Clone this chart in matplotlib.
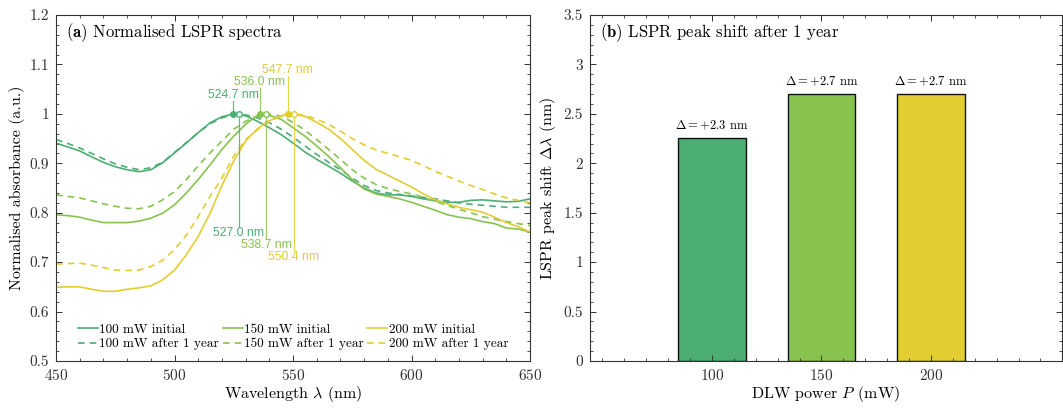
import numpy as np
import matplotlib
matplotlib.use("Agg")
import matplotlib.pyplot as plt
from matplotlib.ticker import MultipleLocator, FormatStrFormatter, FixedLocator

# wavelength grid (nm) for the spectra
wl = np.arange(450, 651, 5)

s100_init = [0.941, 0.933, 0.925, 0.913, 0.902, 0.893, 0.887, 0.883, 0.887, 0.901,
             0.921, 0.941, 0.962, 0.982, 0.994, 0.9995, 0.996, 0.985, 0.972, 0.958,
             0.941, 0.923, 0.908, 0.894, 0.880, 0.864, 0.850, 0.840, 0.836, 0.836,
             0.833, 0.828, 0.824, 0.821, 0.821, 0.825, 0.826, 0.824, 0.822, 0.823, 0.828]
s100_after = [0.948, 0.940, 0.931, 0.920, 0.909, 0.899, 0.892, 0.887, 0.891, 0.902,
              0.922, 0.942, 0.962, 0.980, 0.992, 0.999, 0.998, 0.992, 0.982, 0.969,
              0.953, 0.935, 0.918, 0.902, 0.887, 0.870, 0.855, 0.845, 0.840, 0.837,
              0.834, 0.831, 0.828, 0.824, 0.820, 0.817, 0.815, 0.813, 0.811, 0.811, 0.811]
s150_init = [0.796, 0.794, 0.791, 0.785, 0.780, 0.780, 0.780, 0.783, 0.789, 0.799,
             0.816, 0.840, 0.867, 0.897, 0.928, 0.955, 0.979, 0.997, 0.997, 0.989,
             0.972, 0.955, 0.935, 0.914, 0.891, 0.867, 0.848, 0.838, 0.833, 0.828,
             0.821, 0.813, 0.805, 0.796, 0.791, 0.788, 0.782, 0.778, 0.769, 0.767, 0.761]
s150_after = [0.836, 0.833, 0.830, 0.824, 0.818, 0.813, 0.809, 0.808, 0.813, 0.826,
              0.843, 0.867, 0.895, 0.921, 0.945, 0.969, 0.985, 0.996, 0.9995, 0.995,
              0.983, 0.967, 0.948, 0.928, 0.908, 0.887, 0.870, 0.857, 0.849, 0.843,
              0.838, 0.831, 0.823, 0.815, 0.807, 0.800, 0.792, 0.787, 0.782, 0.778, 0.774]
s200_init = [0.649, 0.650, 0.650, 0.645, 0.641, 0.641, 0.645, 0.648, 0.652, 0.664,
             0.684, 0.715, 0.752, 0.799, 0.855, 0.905, 0.945, 0.970, 0.986, 0.996,
             0.9995, 0.995, 0.983, 0.969, 0.950, 0.928, 0.906, 0.888, 0.876, 0.864,
             0.852, 0.838, 0.826, 0.818, 0.811, 0.806, 0.801, 0.791, 0.780, 0.772, 0.761]
s200_after = [0.696, 0.697, 0.698, 0.694, 0.689, 0.684, 0.683, 0.684, 0.691, 0.704,
              0.725, 0.755, 0.792, 0.833, 0.870, 0.915, 0.948, 0.968, 0.985, 0.995,
              0.9998, 0.997, 0.989, 0.979, 0.965, 0.950, 0.937, 0.927, 0.920, 0.913,
              0.906, 0.895, 0.884, 0.874, 0.864, 0.855, 0.847, 0.838, 0.830, 0.825, 0.820]

powers = [100, 150, 200]
peak_init = [524.7, 536.0, 547.7]
peak_after = [527.0, 538.7, 550.4]
shift = [2.26, 2.70, 2.70]
colors = ["#4DAE74", "#88C34F", "#E2CD33"]

plt.rcParams.update({
    "font.family": "serif",
    "font.serif": ["cmr10"],
    "mathtext.fontset": "cm",
    "axes.formatter.use_mathtext": True,
    "font.size": 11,
    "axes.linewidth": 0.8,
    "axes.edgecolor": "#333333",
    "xtick.color": "#333333",
    "ytick.color": "#333333",
})

fig = plt.figure(figsize=(10.63, 4.09), dpi=100)
ax1 = fig.add_axes([0.0527, 0.1174, 0.4459, 0.8459])
ax2 = fig.add_axes([0.555, 0.1174, 0.444, 0.8459])

def style(ax):
    ax.tick_params(which="both", direction="in", top=True, right=True, labelsize=11)
    ax.tick_params(which="major", length=4.5, width=0.7, pad=5)
    ax.tick_params(which="minor", length=2.2, width=0.6)

init_series = [s100_init, s150_init, s200_init]
after_series = [s100_after, s150_after, s200_after]

for i, p in enumerate(powers):
    c = colors[i]
    # put the peak point into each curve
    k = np.searchsorted(wl, peak_init[i])
    x_i = np.insert(wl.astype(float), k, peak_init[i])
    y_i = np.insert(np.array(init_series[i]), k, 1.0)
    k = np.searchsorted(wl, peak_after[i])
    x_a = np.insert(wl.astype(float), k, peak_after[i])
    y_a = np.insert(np.array(after_series[i]), k, 1.0)
    ax1.plot(x_i, y_i, color=c, lw=1.2, label=f"{p} mW initial")
    ax1.plot(x_a, y_a, color=c, lw=1.2, dashes=(4, 3), label=f"{p} mW after 1 year")

for i in range(3):
    c = colors[i]
    top = 1.027 + 0.025 * i
    bot = 0.772 - 0.025 * i
    ax1.plot([peak_init[i], peak_init[i]], [1.0, top], color=c, lw=0.9, alpha=0.85)
    ax1.plot([peak_after[i], peak_after[i]], [1.0, bot], color=c, lw=0.9, alpha=0.85)
    ax1.plot(peak_init[i], 1.0, "o", color=c, ms=4, zorder=5)
    ax1.plot(peak_after[i], 1.0, "o", mfc="white", mec=c, mew=1.0, ms=4, zorder=5)
    ax1.text(peak_init[i], top, f"{peak_init[i]:.1f} nm", color=c, ha="center",
             va="bottom", fontsize=8.8, family="Liberation Sans")
    ax1.text(peak_after[i], bot, f"{peak_after[i]:.1f} nm", color=c, ha="center",
             va="top", fontsize=8.8, family="Liberation Sans")

ax1.set_xlim(450, 650)
ax1.set_ylim(0.5, 1.2)
ax1.xaxis.set_major_locator(MultipleLocator(50))
ax1.xaxis.set_minor_locator(MultipleLocator(10))
ax1.yaxis.set_major_locator(MultipleLocator(0.1))
ax1.yaxis.set_minor_locator(MultipleLocator(0.02))
ax1.yaxis.set_major_formatter(FormatStrFormatter("%g"))
style(ax1)
ax1.set_xlabel(r"Wavelength $\lambda$ (nm)", fontsize=11.5, labelpad=1)
ax1.set_ylabel("Normalised absorbance (a.u.)", fontsize=11.5, labelpad=3)
ax1.text(0.022, 0.949, r"$\mathbf{(a)}$ Normalised LSPR spectra", transform=ax1.transAxes,
         fontsize=12, va="center", ha="left")
h, l = ax1.get_legend_handles_labels()
ax1.legend(h, l, ncol=3, loc="lower center", frameon=False, fontsize=9.5,
           handlelength=1.5, handletextpad=0.1, columnspacing=0.3,
           labelspacing=0.15, borderaxespad=0.4)

# right panel
bars = ax2.bar(powers, shift, width=31, color=colors, edgecolor="#111111", linewidth=1.0)
for x, v in zip(powers, shift):
    ax2.annotate(rf"$\Delta = +{v:.1f}$ nm", (x, v), xytext=(0, 4), textcoords="offset points",
                 ha="center", va="bottom", fontsize=9)
ax2.set_xlim(44.3, 259.8)
ax2.set_ylim(0, 3.5)
ax2.xaxis.set_major_locator(FixedLocator(powers))
ax2.xaxis.set_minor_locator(MultipleLocator(10))
ax2.yaxis.set_major_locator(MultipleLocator(0.5))
ax2.yaxis.set_minor_locator(MultipleLocator(0.1))
ax2.yaxis.set_major_formatter(FormatStrFormatter("%g"))
style(ax2)
ax2.set_xlabel(r"DLW power $P$ (mW)", fontsize=11.5, labelpad=1)
ax2.set_ylabel(r"LSPR peak shift $\Delta\lambda$ (nm)", fontsize=11.5, labelpad=4)
ax2.text(0.021, 0.949, r"$\mathbf{(b)}$ LSPR peak shift after 1 year", transform=ax2.transAxes,
         fontsize=12, va="center", ha="left")

fig.savefig("out.png", dpi=100)
